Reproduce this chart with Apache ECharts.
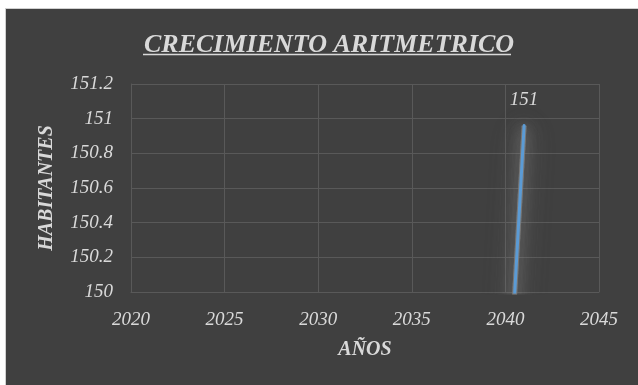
<!DOCTYPE html>
<html>
<head>
<meta charset="utf-8">
<script src="https://cdn.jsdelivr.net/npm/echarts@6/dist/echarts.min.js"></script>
<style>
html,body{margin:0;padding:0;background:#ffffff;width:638px;height:385px;overflow:hidden;}
#frame{position:absolute;left:5px;top:8px;width:633px;height:377px;background:#d0d0d0;}
#chart{position:absolute;left:6px;top:9px;width:632px;height:376px;background:#404040;}
</style>
</head>
<body>
<div id="frame"></div>
<div id="chart"></div>
<script>
// Data
const titleText = 'CRECIMIENTO ARITMETRICO';
const xName = 'AÑOS';
const yName = 'HABITANTES';
const years = [2040, 2041];
const habitantes = [149.04, 150.96];
const pointLabels = ['', '151'];
const xTicks = { min: 2020, max: 2045, interval: 5 };
const yTicks = { min: 150, max: 151.2, interval: 0.2 };

const FONT = 'Liberation Serif';
const TXT = '#d9d9d9';
const GRID = '#595959';

const seriesData = years.map((y, i) => [y, habitantes[i]]);

function glowLayer(alpha, blur) {
  return {
    type: 'line',
    data: seriesData,
    clip: true,
    symbol: 'none',
    silent: true,
    z: 1,
    lineStyle: {
      color: 'rgba(130,130,130,' + alpha + ')', width: 5,
      shadowColor: 'rgba(160,160,160,1)', shadowBlur: blur
    }
  };
}

const chart = echarts.init(document.getElementById('chart'), null, { renderer: 'canvas' });
chart.setOption({
  backgroundColor: '#404040',
  animation: false,
  graphic: [{
    type: 'text',
    left: 138,
    top: 23,
    style: {
      text: titleText,
      fill: TXT,
      font: 'italic bold 26px "Liberation Serif"'
    }
  }, {
    type: 'line',
    shape: { x1: 137, y1: 45.5, x2: 505, y2: 45.5 },
    style: { stroke: TXT, lineWidth: 1.5 }
  }],
  grid: { left: 125, right: 39, top: 75, bottom: 93 },
  xAxis: {
    type: 'value',
    min: xTicks.min, max: xTicks.max, interval: xTicks.interval,
    name: xName,
    nameLocation: 'middle',
    nameGap: 48,
    nameTextStyle: { color: TXT, fontFamily: FONT, fontSize: 20, fontWeight: 'bold', fontStyle: 'italic' },
    axisLine: { show: true, lineStyle: { color: GRID, width: 1 } },
    axisTick: { show: false },
    axisLabel: {
      color: TXT, fontFamily: FONT, fontSize: 19, fontStyle: 'italic', margin: 18, showMaxLabel: true,
      formatter: v => String(v)
    },
    splitLine: { show: true, lineStyle: { color: GRID, width: 1 } }
  },
  yAxis: {
    type: 'value',
    min: yTicks.min, max: yTicks.max, interval: yTicks.interval,
    name: yName,
    nameLocation: 'middle',
    nameGap: 74,
    nameRotate: 90,
    nameTextStyle: { color: TXT, fontFamily: FONT, fontSize: 20, fontWeight: 'bold', fontStyle: 'italic' },
    axisLine: { show: true, lineStyle: { color: GRID, width: 1 } },
    axisTick: { show: false },
    axisLabel: {
      color: TXT, fontFamily: FONT, fontSize: 19, fontStyle: 'italic', margin: 18,
      formatter: v => String(Math.round(v * 10) / 10)
    },
    splitLine: { show: true, lineStyle: { color: GRID, width: 1 } }
  },
  series: [
    glowLayer(0.3, 30),
    glowLayer(0.3, 24),
    glowLayer(0.3, 18),
    glowLayer(0.3, 12),
    {
      type: 'line',
      data: seriesData.map((d, i) => ({
        value: d,
        label: { show: pointLabels[i] !== '', formatter: pointLabels[i] }
      })),
      clip: true,
      showSymbol: true,
      symbol: 'circle',
      symbolSize: 1,
      itemStyle: { color: 'rgba(0,0,0,0)' },
      z: 3,
      lineStyle: { color: '#5b9bd5', width: 3, cap: 'round' },
      label: {
        position: 'top', distance: 16,
        color: TXT, fontFamily: FONT, fontSize: 19, fontStyle: 'italic'
      }
    }
  ]
});
</script>
</body>
</html>
